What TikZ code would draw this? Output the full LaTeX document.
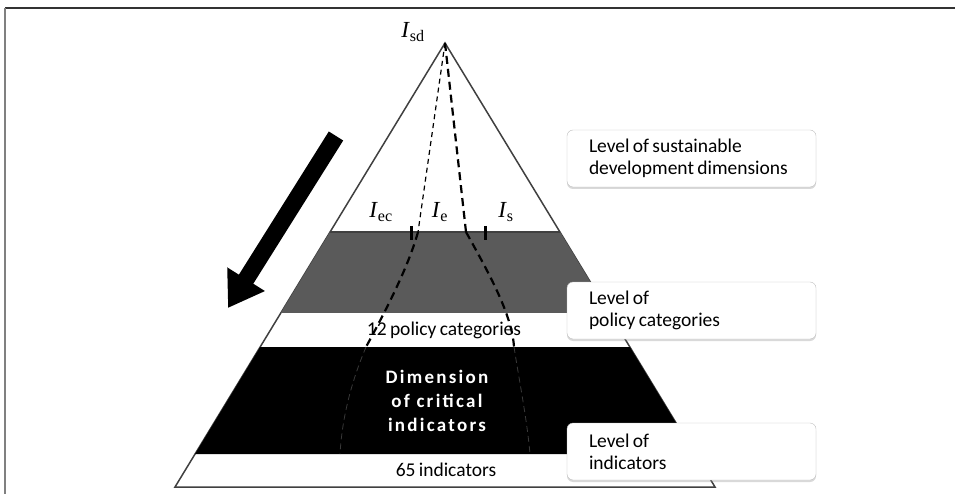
\documentclass[tikz,border=0pt]{standalone}
\usepackage{fontspec}
\usetikzlibrary{calc,shadows,arrows.meta}
\newfontfamily\calfont[WordSpace=0.75]{Carlito}
\newfontfamily\spacedfont[LetterSpace=12]{Carlito}
\newfontfamily\timesfont{Liberation Serif}
\definecolor{bandgray}{RGB}{90,90,90}
\definecolor{rimgray}{RGB}{64,64,64}
\definecolor{boxgray}{RGB}{190,190,190}

\begin{document}
\begin{tikzpicture}[x=1pt,y=-1pt,
  levelbox/.style={draw=boxgray,fill=white,rounded corners=6pt,minimum width=249pt,minimum height=57pt,
    text width=205pt,inner xsep=22pt,align=flush left,font=\calfont\fontsize{19.5}{22}\selectfont,
    drop shadow={shadow xshift=0pt,shadow yshift=-2pt,opacity=0.3}},
  bandtext/.style={font=\calfont\fontsize{19.5}{22}\selectfont},
  idx/.style={font=\timesfont\fontsize{23}{23}\selectfont},
  thindash/.style={line width=1.2pt,dash pattern=on 5pt off 4pt},
  thickdash/.style={line width=2.2pt,dash pattern=on 8pt off 5pt},
  darkdash/.style={line width=0.8pt,gray!45!black,dash pattern=on 6pt off 4pt}]
\useasboundingbox (0,0) rectangle (955,494);
\draw[line width=2pt,black!80] (955,8) -- (5,8);
\draw[line width=1.5pt,gray] (5,8) -- (5,494);

% pyramid
\coordinate (apex) at (445,43);
\coordinate (bl) at (175,487);
\coordinate (br) at (715,487);
\filldraw[draw=rimgray,fill=white,line width=1.5pt] (apex) -- (bl) -- (br) -- cycle;
\fill[bandgray] ($(apex)!0.4257!(bl)$) -- ($(apex)!0.4257!(br)$) -- ($(apex)!0.6081!(br)$) -- ($(apex)!0.6081!(bl)$) -- cycle;
\fill[black] ($(apex)!0.6847!(bl)$) -- ($(apex)!0.6847!(br)$) -- ($(apex)!0.9257!(br)$) -- ($(apex)!0.9257!(bl)$) -- cycle;
\draw[rimgray,line width=1.5pt] ($(apex)!0.4257!(bl)$) -- ($(apex)!0.4257!(br)$);

% dashed paths
\coordinate (lA) at (418,232);
\coordinate (lC) at (366,347);
\coordinate (lD) at (340,454);
\coordinate (rA) at (466,232);
\coordinate (rC) at (514,347);
\coordinate (rD) at (530,454);
\draw[thindash] (apex) -- (lA);
\draw[thickdash] (lA) .. controls (408,268) and (385,312) .. (lC);
\draw[darkdash] (lC) .. controls (350,385) and (342,420) .. (lD);
\draw[thickdash] (apex) -- (rA);
\draw[thickdash] (rA) .. controls (490,275) and (512,315) .. (rC);
\draw[darkdash] (rC) .. controls (520,385) and (527,420) .. (rD);
\draw[line width=3pt] (411,226) -- (411,240);
\draw[line width=3pt] (485,226) -- (485,240);

% arrow
\coordinate (arrowtop) at (336,136);
\coordinate (arrowtip) at (228,308);
\draw[line width=17pt,-{Triangle[length=34pt,width=42pt]}] (arrowtop) -- (arrowtip);

\node[idx] (isd) at (413,32) {\textit{I}\textsubscript{sd}};
\node[idx] (iec) at (381,212) {\textit{I}\textsubscript{ec}};
\node[idx] (ie) at (440,212) {\textit{I}\textsubscript{e}};
\node[idx] (is) at (506,212) {\textit{I}\textsubscript{s}};

\node[bandtext] (policy) at (444,330) {12 policy categories};
\node[text=white,align=center,font=\spacedfont\bfseries\fontsize{19}{24}\selectfont] (critical) at (437,401) {Dimension\\of critical\\indicators};
\node[bandtext] (count) at (446,470) {65 indicators};

\node[levelbox] (sdlevel) at (691.5,158.5) {Level of sustainable\\development~dimensions};
\node[levelbox] (policylevel) at (691.5,310.5) {Level of\\policy categories};
\node[levelbox] (indlevel) at (691.5,451.5) {Level of\\indicators};
\end{tikzpicture}
\end{document}
